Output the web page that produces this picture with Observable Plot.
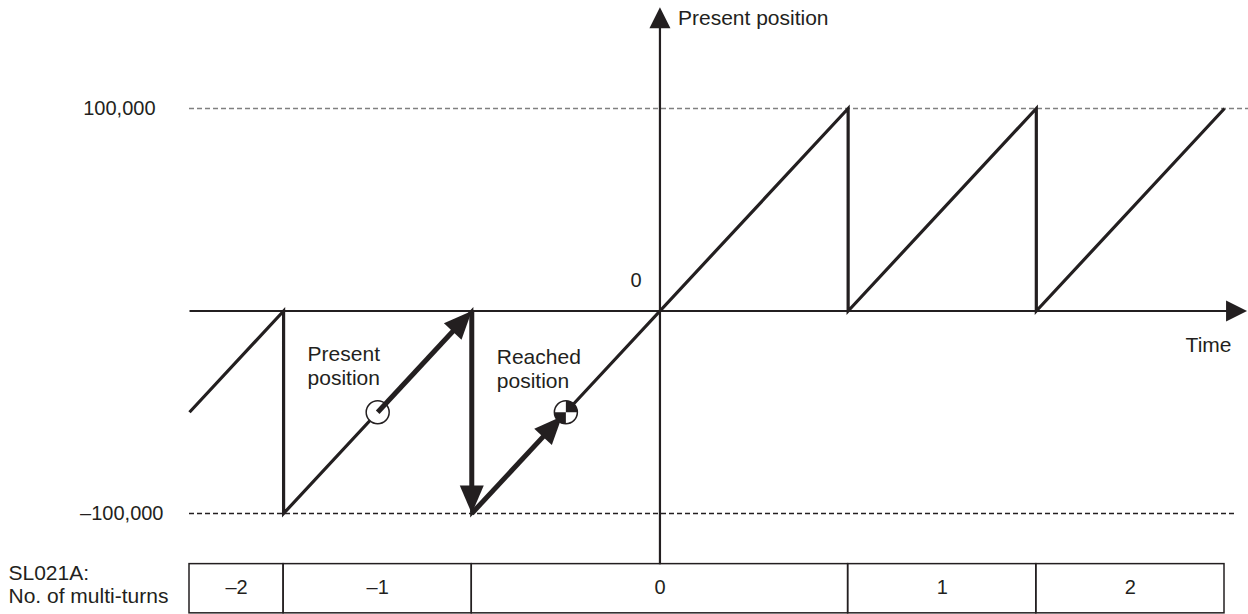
<!DOCTYPE html>
<html>
<head>
<meta charset="utf-8">
<script src="https://cdn.jsdelivr.net/npm/d3@7"></script>
<script src="https://cdn.jsdelivr.net/npm/@observablehq/plot@0.6"></script>
<style>
  html, body { margin: 0; padding: 0; background: #fff; }
  #chart { width: 1248px; height: 614px; }
</style>
</head>
<body>
<div id="chart"></div>
<script>
// ---------- data ----------
const sawTime     = [-2.5, -2, -2, -1, -1, 1, 1, 2, 2, 3];
const sawPosition = [-50000, 0, -100000, 0, -100000, 100000, 0, 100000, 0, 100000];

const limitValues = [100000, -100000];
const limitLabels = ["100,000", "\u2013100,000"];

const turnStart  = [-2.5, -2, -1, 1, 2];
const turnEnd    = [-2, -1, 1, 2, 3];
const turnLabels = ["\u20132", "\u20131", "0", "1", "2"];

// highlighted move: present position -> wrap -> reached position
const moveFromT = [-1.5, -1, -1];
const moveFromV = [-50000, 0, -100000];
const moveToT   = [-1, -1, -0.52];
const moveToV   = [0, -100000, -52000];

const presentMarker = {t: -1.5, v: -50000};
const reachedMarker = {t: -0.5, v: -50000};

// ---------- layout ----------
const W = 1248, H = 614;
const xDom = [-2.5, 3], xRange = [189, 1224];
const yDom = [-100000, 100000], yRange = [513, 108];
const sx = (xRange[1] - xRange[0]) / (xDom[1] - xDom[0]);
const sy = (yRange[1] - yRange[0]) / (yDom[1] - yDom[0]);
const INK = "#231f20";
const FONT = "'Liberation Sans', Arial, Helvetica, sans-serif";

const tEnd = 3.12;       // time-axis arrow tip
const vTop = 150000;     // position-axis arrow tip
const tableTop = -125000, tableBottom = -149300;

function headSymbol(angle, L, Wd) {
  const c = Math.cos(angle), s = Math.sin(angle);
  return {
    draw(ctx) {
      ctx.moveTo(0, 0);
      ctx.lineTo(-L * c - Wd * s, -L * s + Wd * c);
      ctx.lineTo(-L * c + Wd * s, -L * s - Wd * c);
      ctx.closePath();
    }
  };
}
function pixAngle(t0, v0, t1, v1) {
  return Math.atan2((v1 - v0) * sy, (t1 - t0) * sx);
}
// arrow: shaft (link) + filled head (dot with custom symbol)
function arrowMarks(t0, v0, t1, v1, {L, Wd, sw}) {
  const a = pixAngle(t0, v0, t1, v1);
  const back = L * 0.6;
  const te = t1 - back * Math.cos(a) / sx;
  const ve = v1 - back * Math.sin(a) / sy;
  return [
    Plot.link([0], {x1: () => t0, y1: () => v0, x2: () => te, y2: () => ve,
      stroke: INK, strokeWidth: sw, strokeLinecap: "butt"}),
    Plot.dot([0], {x: () => t1, y: () => v1, symbol: headSymbol(a, L, Wd),
      fill: INK, stroke: "none"})
  ];
}

const saw = sawTime.map((t, i) => ({t, v: sawPosition[i]}));
const limits = limitValues.map((v, i) => ({v, label: limitLabels[i]}));
const turns = turnStart.map((s, i) => ({s, e: turnEnd[i], label: turnLabels[i]}));

const quadSymbol = {
  draw(ctx) {
    const r = 11.5;
    ctx.moveTo(0, 0); ctx.arc(0, 0, r, -Math.PI / 2, 0); ctx.closePath();
    ctx.moveTo(0, 0); ctx.arc(0, 0, r, Math.PI / 2, Math.PI); ctx.closePath();
  }
};

const moveMarks = [];
for (let i = 0; i < moveFromT.length; i++) {
  moveMarks.push(...arrowMarks(moveFromT[i], moveFromV[i], moveToT[i], moveToV[i], {L: 28, Wd: 12, sw: 5}));
}

const plot = Plot.plot({
  width: W, height: H,
  margin: 0,
  x: {domain: xDom, range: xRange, axis: null},
  y: {domain: yDom, range: yRange, axis: null},
  style: {fontFamily: FONT, fontSize: "21px", color: INK, background: "#fff"},
  marks: [
    // limit lines
    Plot.ruleY([100000], {x1: -2.5, x2: 3.13, stroke: "#808080", strokeWidth: 1.3, strokeDasharray: "5,3"}),
    Plot.ruleY([-100000], {x1: -2.5, x2: 3.055, stroke: INK, strokeWidth: 1.3, strokeDasharray: "5,3"}),
    Plot.text(limits.filter(d => d.v > 0), {x: -2.5, y: "v", text: "label", textAnchor: "end",
      fill: INK, fontSize: 20, dx: -34}),
    Plot.text(limits.filter(d => d.v < 0), {x: -2.5, y: "v", text: "label", textAnchor: "end",
      fill: INK, fontSize: 20, dx: -26}),
    // multi-turn table
    Plot.rect(turns, {x1: "s", x2: "e", y1: tableTop, y2: tableBottom,
      fill: "none", stroke: INK, strokeWidth: 1.5}),
    Plot.text(turns, {x: (d) => (d.s + d.e) / 2, y: -136500, text: "label", fontSize: 20, fill: INK}),
    Plot.text(["SL021A:\nNo. of multi-turns"], {frameAnchor: "left", y: -134800, dx: 8,
      textAnchor: "start", lineHeight: 1.1, fontSize: 21, fill: INK}),
    // axes
    Plot.link([0], {x1: () => -2.5, y1: () => 0, x2: () => tEnd - 0.06, y2: () => 0, stroke: INK, strokeWidth: 2.2}),
    Plot.dot([0], {x: () => tEnd, y: () => 0, symbol: headSymbol(0, 21, 10.5), fill: INK, stroke: "none"}),
    Plot.link([0], {x1: () => 0, y1: () => tableTop, x2: () => 0, y2: () => vTop - 6000, stroke: INK, strokeWidth: 2.2}),
    Plot.dot([0], {x: () => 0, y: () => vTop, symbol: headSymbol(-Math.PI / 2, 21, 10.5), fill: INK, stroke: "none"}),
    Plot.text(["Present position"], {x: 0, y: vTop, dx: 18, dy: 11, textAnchor: "start", fontSize: 21, fill: INK}),
    Plot.text(["Time"], {x: 3, y: 0, dx: 7, dy: 34, textAnchor: "end", fontSize: 21, fill: INK}),
    Plot.text(["0"], {x: 0, y: 0, dx: -24, dy: -30, fontSize: 20, fill: INK}),
    // sawtooth
    Plot.line(saw, {x: "t", y: "v", stroke: INK, strokeWidth: 3.2,
      strokeLinejoin: "miter", strokeMiterlimit: 4, strokeLinecap: "butt"}),
    // present position marker
    Plot.dot([presentMarker], {x: "t", y: "v", r: 11.5, fill: "#fff", stroke: INK, strokeWidth: 1.5}),
    // highlighted move arrows
    ...moveMarks,
    // reached position marker
    Plot.dot([reachedMarker], {x: "t", y: "v", r: 11.5, fill: "#fff", stroke: "none"}),
    Plot.dot([reachedMarker], {x: "t", y: "v", symbol: quadSymbol, fill: INK, stroke: "none"}),
    Plot.dot([reachedMarker], {x: "t", y: "v", r: 11.5, fill: "none", stroke: INK, strokeWidth: 1.5}),
    // labels
    Plot.text(["Present\nposition"], {x: -2, y: 0, dx: 24, dy: 54, textAnchor: "start",
      lineHeight: 1.15, fontSize: 21, fill: INK}),
    Plot.text(["Reached\nposition"], {x: -1, y: 0, dx: 25, dy: 57, textAnchor: "start",
      lineHeight: 1.15, fontSize: 21, fill: INK})
  ]
});
document.getElementById("chart").appendChild(plot);
</script>
</body>
</html>
